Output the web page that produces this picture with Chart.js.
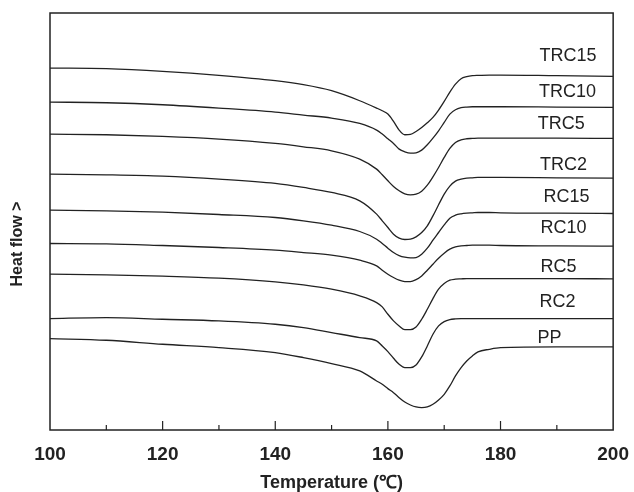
<!DOCTYPE html>
<html>
<head>
<meta charset="utf-8">
<script src="https://cdn.jsdelivr.net/npm/chart.js@4.4.1/dist/chart.umd.min.js"></script>
<style>
  html, body { margin: 0; padding: 0; background: #fff; }
  #wrap { width: 634px; height: 492px; }
</style>
</head>
<body>
<div id="wrap"><canvas id="myChart" width="634" height="492"></canvas></div>
<script>
// temperatures (°C) where the curves were read
const temperaturas = [100,110,120,130,140,145,150,155,158,159,160,161,162,163,164,165,166,167,168,169,170,171,172,173,174,175,176,178,180,190,200];

// heat flow, arbitrary units (curves are stacked)
const TRC15 = [108.5,108.3,107.5,106.3,104.7,103.5,101.7,98.7,96.5,95.7,94.7,92.5,89.9,88.5,88.6,89.5,90.7,92.1,93.7,95.9,98.5,101.3,103.7,105.3,105.9,106.2,106.3,106.4,106.4,106.2,106.0];
const TRC10 = [98.3,98.1,97.5,96.5,95.3,94.4,93.5,91.9,89.9,88.7,87.3,85.9,84.2,83.4,83.0,83.1,83.9,85.5,87.5,89.7,92.2,94.7,96.0,96.6,96.8,96.9,96.9,96.9,96.9,96.8,96.7];
const TRC5 = [88.7,88.5,88.0,87.2,85.9,84.9,83.7,81.2,78.2,76.5,74.7,73.0,71.7,70.8,70.5,70.7,71.6,73.4,75.9,78.7,81.7,84.4,86.2,87.0,87.3,87.4,87.5,87.5,87.5,87.5,87.4];
const TRC2 = [76.7,76.5,76.1,75.2,73.9,72.7,71.2,68.7,64.7,62.7,60.7,58.7,57.5,57.1,57.2,57.9,59.2,61.2,64.2,67.5,70.7,73.1,74.6,75.2,75.5,75.6,75.7,75.7,75.7,75.6,75.5];
const RC15 = [65.9,65.7,65.3,64.6,63.7,62.7,61.4,59.5,57.2,55.9,54.5,53.2,52.3,51.8,51.6,51.7,52.7,54.5,56.9,59.2,61.5,63.5,64.4,64.8,65.0,65.1,65.2,65.2,65.1,65.0,64.9];
const RC10 = [55.9,55.8,55.3,54.7,53.9,53.2,52.4,50.9,49.2,47.9,46.7,45.7,44.9,44.5,44.5,45.1,46.2,47.9,49.7,51.5,53.0,54.2,54.9,55.2,55.3,55.4,55.4,55.4,55.3,55.2,55.1];
const RC5 = [46.7,46.5,46.1,45.5,44.4,43.5,42.2,40.2,38.2,36.9,34.7,32.7,31.2,30.1,30.1,30.9,33.2,36.2,39.4,42.2,43.9,44.9,45.2,45.3,45.4,45.4,45.4,45.4,45.4,45.4,45.3];
const RC2 = [33.4,33.7,33.2,32.7,31.7,30.7,29.2,27.7,26.7,25.2,23.5,21.5,19.7,18.7,18.7,19.5,21.9,25.2,28.7,31.2,32.5,33.1,33.3,33.4,33.4,33.4,33.4,33.4,33.4,33.4,33.4];
const PP = [27.4,26.9,25.7,24.7,23.2,21.7,19.9,17.7,14.7,13.7,12.4,11.2,9.7,8.4,7.5,6.9,6.7,6.9,7.7,9.0,10.7,13.2,16.2,18.7,20.7,22.2,23.4,24.2,24.7,24.9,24.9];

const nombres = ['TRC15','TRC10','TRC5','TRC2','RC15','RC10','RC5','RC2','PP'];
const series = [TRC15, TRC10, TRC5, TRC2, RC15, RC10, RC5, RC2, PP];

// where each curve name is written (temperature, heat flow)
const etiquetaX = [192.0,191.9,190.8,191.2,191.7,191.2,190.3,190.1,188.7];
const etiquetaY = [112.2,101.4,91.8,79.5,69.9,60.6,48.9,38.4,27.6];

const fuente = '"Liberation Sans", Arial, sans-serif';
const negro = '#222';

const datasets = series.map((valores, i) => ({
  label: nombres[i],
  data: valores.map((v, j) => ({x: temperaturas[j], y: v})),
  borderColor: negro,
  borderWidth: 1.3,
  pointRadius: 0,
  fill: false,
  cubicInterpolationMode: 'monotone'
}));

// frame, inward ticks, curve names and y title
const marco = {
  id: 'marco',
  afterDraw(chart) {
    const ctx = chart.ctx;
    const a = chart.chartArea;
    const sx = chart.scales.x;
    const sy = chart.scales.y;
    ctx.save();
    ctx.strokeStyle = negro;
    ctx.lineWidth = 1.5;
    ctx.strokeRect(a.left, a.top, a.right - a.left, a.bottom - a.top);

    ctx.lineWidth = 1.2;
    for (let t = 110; t < 200; t += 10) {
      const px = sx.getPixelForValue(t);
      const largo = (t % 20 === 0) ? 9 : 5;
      ctx.beginPath();
      ctx.moveTo(px, a.bottom);
      ctx.lineTo(px, a.bottom - largo);
      ctx.stroke();
    }

    ctx.fillStyle = negro;
    ctx.font = '18px ' + fuente;
    ctx.textAlign = 'center';
    ctx.textBaseline = 'middle';
    nombres.forEach((n, i) => {
      ctx.fillText(n, sx.getPixelForValue(etiquetaX[i]), sy.getPixelForValue(etiquetaY[i]));
    });

    ctx.font = 'bold 16px ' + fuente;
    ctx.translate(18, 244);
    ctx.rotate(-Math.PI / 2);
    ctx.fillText('Heat flow >', 0, 0);
    ctx.restore();
  }
};

const ctx = document.getElementById('myChart').getContext('2d');
new Chart(ctx, {
  type: 'line',
  data: { datasets: datasets },
  options: {
    responsive: false,
    animation: false,
    layout: { padding: { top: 13, right: 18, left: 0, bottom: 0 } },
    plugins: { legend: { display: false }, tooltip: { enabled: false } },
    scales: {
      x: {
        type: 'linear',
        min: 100,
        max: 200,
        afterFit: (s) => { s.height = 62; },
        grid: { display: false },
        border: { display: false },
        ticks: {
          stepSize: 20,
          padding: 5,
          color: negro,
          font: { family: fuente, size: 19, weight: 'bold' }
        },
        title: {
          display: true,
          text: 'Temperature (℃)',
          color: negro,
          padding: 0,
          font: { family: fuente, size: 18, weight: 'bold', lineHeight: 1 }
        }
      },
      y: {
        min: 0,
        max: 125,
        afterFit: (s) => { s.width = 50; },
        grid: { display: false },
        border: { display: false },
        ticks: { display: false }
      }
    }
  },
  plugins: [marco]
});
</script>
</body>
</html>
